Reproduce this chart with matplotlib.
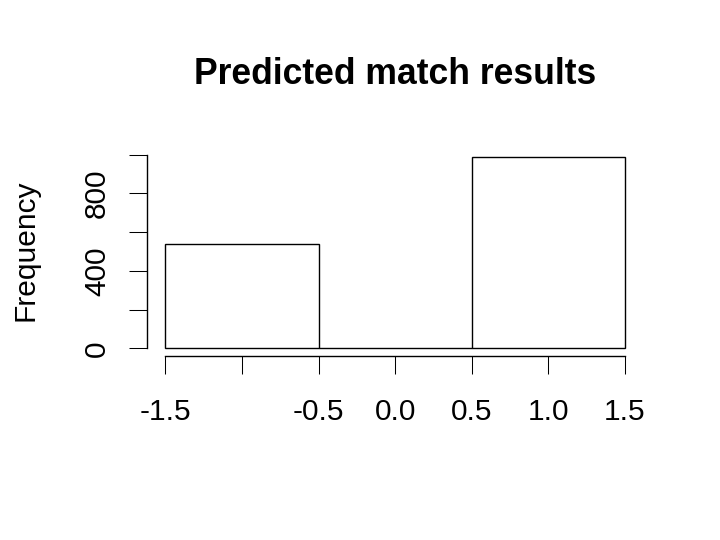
import matplotlib
matplotlib.use("Agg")
import matplotlib.pyplot as plt
import numpy as np

# Data
bin_edges = [-1.5, -0.5, 0.5, 1.5]
counts = [537, 0, 986]
x_ticks = [-1.5, -1.0, -0.5, 0.0, 0.5, 1.0, 1.5]
x_tick_labels = ["-1.5", "", "-0.5", "0.0", "0.5", "1.0", "1.5"]
y_ticks = [0, 200, 400, 600, 800, 1000]
y_tick_labels = ["0", "", "400", "", "800", ""]
title = "Predicted match results"
ylabel = "Frequency"

plt.rcParams['font.family'] = ['Liberation Sans', 'DejaVu Sans']

W, H = 720, 540
fig = plt.figure(figsize=(7.2, 5.4), dpi=100)
left, right, top, bottom = 147, 643.4, 149.6, 356
ax = fig.add_axes([left / W, 1 - bottom / H, (right - left) / W, (bottom - top) / H])

centers = [(bin_edges[i] + bin_edges[i + 1]) / 2 for i in range(len(counts))]
ax.hist(centers, bins=bin_edges, weights=counts, histtype='bar', fill=False,
        edgecolor='black', linewidth=1.0)

xr = bin_edges[-1] - bin_edges[0]
ax.set_xlim(bin_edges[0] - 0.04 * xr, bin_edges[-1] + 0.04 * xr)
ymax = max(counts)
ax.set_ylim(-0.04 * ymax, ymax * 1.04)

for s in ['top', 'right']:
    ax.spines[s].set_visible(False)
ax.spines['left'].set_bounds(0, 1000)
ax.spines['bottom'].set_bounds(-1.5, 1.5)
for s in ['left', 'bottom']:
    ax.spines[s].set_linewidth(1.0)

ax.set_xticks(x_ticks)
ax.set_xticklabels(x_tick_labels)
ax.set_yticks(y_ticks)
ax.set_yticklabels(y_tick_labels, rotation=90, va='center')
ax.tick_params(axis='both', length=13, width=0.75, labelsize=21.5, direction='out')
ax.tick_params(axis='x', pad=17)
ax.tick_params(axis='y', pad=13)

fig.text(25 / W, 1 - 250 / H, ylabel, rotation=90, ha='center', va='center', fontsize=21.5)
fig.text(395.2 / W, 1 - 75 / H, title, ha='center', va='center', fontsize=25.6, fontweight='bold')

fig.savefig("out.png", dpi=100)
